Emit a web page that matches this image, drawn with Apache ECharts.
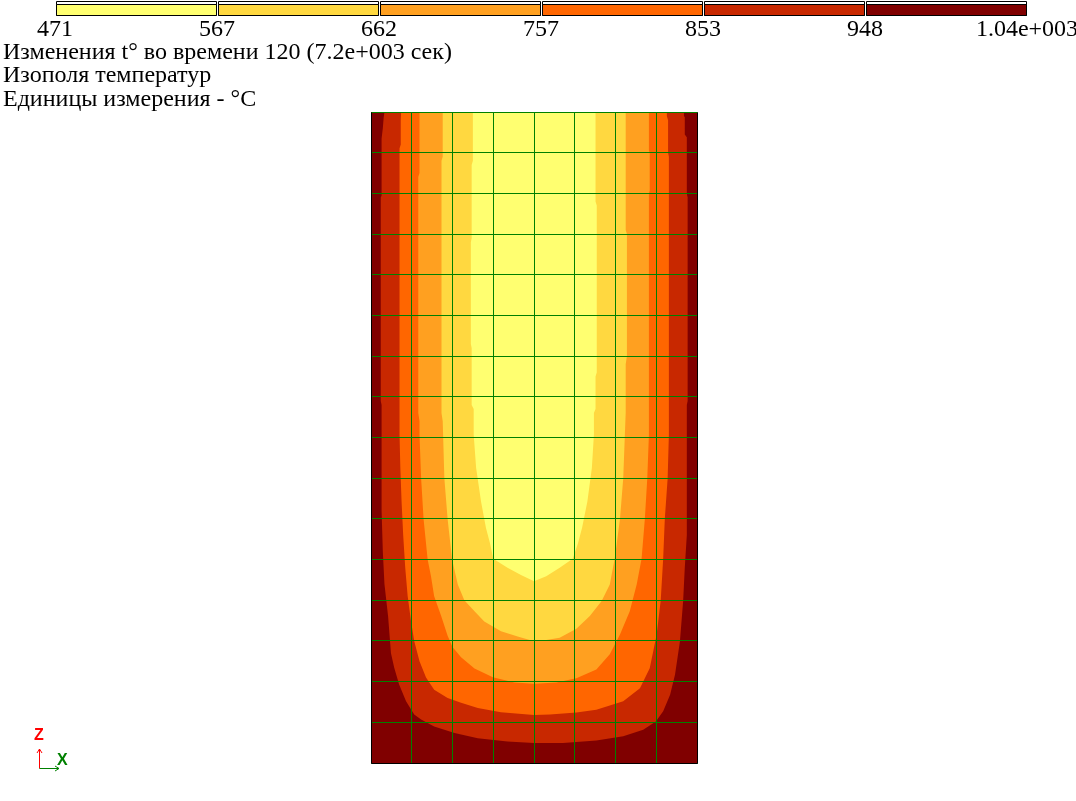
<!DOCTYPE html>
<html>
<head>
<meta charset="utf-8">
<script src="https://cdn.jsdelivr.net/npm/echarts@6/dist/echarts.min.js"></script>
<style>
  html, body { margin: 0; background: #fff; }
  #chart { width: 1076px; height: 801px; }
</style>
</head>
<body>
<div id="chart"></div>
<script>
// шкала
const LEGEND_LABELS = ['471', '567', '662', '757', '853', '948', '1.04e+003'];
const TITLE_LINES = [
  'Изменения t° во времени 120 (7.2e+003 сек)',
  'Изополя температур',
  'Единицы измерения - °C'
];

// область (x 0..8, z 0..16, сетка 8x16)
const X_MAX = 8;
const Z_MAX = 16;

// изолинии: от левого верхнего края вниз, через низ, вверх по правому краю  [x, z]
const ISO_948 = [
  [0.33, 16], [0.31, 15.85], [0.29, 15.6], [0.26, 15.35], [0.26, 13.95], [0.24, 13.9],
  [0.24, 8.9], [0.26, 8.8], [0.26, 6.2], [0.29, 5.2], [0.33, 4.4], [0.42, 3.6],
  [0.49, 2.7], [0.57, 2.34], [0.69, 1.93], [0.86, 1.52], [1.06, 1.19], [1.23, 1.07],
  [1.55, 0.90], [2.05, 0.74], [2.62, 0.61], [3.35, 0.53], [4.0, 0.49],
  [4.71, 0.49], [5.53, 0.55], [6.19, 0.66], [6.68, 0.82], [6.99, 1.02], [7.17, 1.27],
  [7.34, 1.68], [7.46, 2.17], [7.58, 2.98], [7.66, 3.98], [7.70, 4.8], [7.75, 5.6],
  [7.75, 8.8], [7.77, 8.9], [7.77, 13.9], [7.75, 14.0], [7.75, 15.38], [7.70, 15.45],
  [7.70, 15.87], [7.68, 15.9], [7.68, 16]
];
const ISO_853 = [
  [0.74, 16], [0.73, 15.8], [0.73, 15.2], [0.70, 15.1], [0.70, 8.07], [0.72, 7.25],
  [0.75, 6.43], [0.79, 5.6], [0.84, 4.8], [0.90, 4.1], [0.98, 3.5], [1.06, 3.0],
  [1.19, 2.5], [1.35, 2.1], [1.55, 1.8], [1.88, 1.6], [2.21, 1.48], [2.62, 1.35],
  [3.19, 1.25], [4.0, 1.18],
  [4.39, 1.19], [5.04, 1.24], [5.53, 1.31], [6.19, 1.52], [6.60, 1.84], [6.84, 2.33],
  [7.01, 3.15], [7.11, 4.0], [7.17, 5.02], [7.21, 6.0], [7.28, 7.0], [7.31, 8.07],
  [7.31, 14.9], [7.29, 15.0], [7.29, 15.8], [7.26, 15.9], [7.26, 16]
];
const ISO_757 = [
  [1.19, 16], [1.19, 14.5], [1.16, 14.4], [1.16, 8.6], [1.19, 8.4], [1.19, 8.07],
  [1.23, 7.0], [1.29, 6.0], [1.39, 5.0], [1.47, 4.6], [1.55, 4.1], [1.72, 3.62],
  [1.88, 3.13], [2.0, 2.85], [2.21, 2.6], [2.54, 2.32], [2.99, 2.11], [3.52, 1.98],
  [4.0, 1.95],
  [4.55, 1.98], [5.04, 2.08], [5.53, 2.30], [5.86, 2.67], [6.11, 3.16], [6.35, 3.73],
  [6.52, 4.39], [6.64, 5.02], [6.72, 6.0], [6.78, 7.0], [6.82, 8.07], [6.82, 14.0],
  [6.84, 14.07], [6.84, 15.0], [6.82, 15.05], [6.82, 16]
];
const ISO_662 = [
  [1.76, 16], [1.76, 14.9], [1.73, 14.8], [1.73, 8.6], [1.76, 8.4], [1.80, 7.0],
  [1.88, 6.0], [1.99, 5.0], [2.13, 4.39], [2.29, 4.0], [2.54, 3.73], [2.78, 3.48],
  [3.19, 3.24], [3.60, 3.11], [4.0, 2.99],
  [4.30, 3.02], [4.63, 3.08], [5.04, 3.30], [5.37, 3.61], [5.66, 3.98], [5.86, 4.39],
  [5.98, 5.02], [6.11, 6.0], [6.19, 7.0], [6.23, 8.07], [6.25, 8.6], [6.25, 9.8],
  [6.28, 10.0], [6.28, 13.0], [6.25, 13.1], [6.25, 16]
];
const ISO_567 = [
  [2.50, 16], [2.50, 14.8], [2.47, 14.7], [2.47, 12.9], [2.45, 12.8], [2.45, 10.3],
  [2.47, 10.2], [2.47, 8.8], [2.52, 8.7], [2.52, 8.07], [2.58, 7.25], [2.70, 6.43],
  [2.82, 5.78], [2.92, 5.4], [3.0, 5.02], [3.35, 4.80], [3.68, 4.62], [4.0, 4.47],
  [4.30, 4.59], [4.63, 4.80], [4.95, 5.02], [5.08, 5.4], [5.18, 5.78], [5.31, 6.43],
  [5.42, 7.25], [5.47, 8.07], [5.47, 8.6], [5.51, 8.7], [5.51, 9.5], [5.54, 9.6],
  [5.54, 13.7], [5.51, 13.8], [5.51, 16]
];
const ISOLINES = [ISO_948, ISO_853, ISO_757, ISO_662, ISO_567];

// цвета: от горячего к холодному
const BAND_COLORS = ['#800000', '#c82800', '#ff6600', '#ffa020', '#ffd840', '#ffff70'];
const SERIF = '"Liberation Serif", "DejaVu Serif", serif';

const chart = echarts.init(document.getElementById('chart'));

const crisp = (v) => Math.floor(v) + 0.5;

function renderBand(params, api) {
  const k = api.value(0);
  if (k === 0) {
    const a = api.coord([0, Z_MAX]);
    const b = api.coord([X_MAX, 0]);
    return { type: 'rect', shape: { x: a[0], y: a[1], width: b[0] - a[0], height: b[1] - a[1] },
      style: { fill: BAND_COLORS[0] } };
  }
  return { type: 'polygon', shape: { points: ISOLINES[k - 1].map((p) => api.coord(p)) },
    style: { fill: BAND_COLORS[k] } };
}

// сетка элементов (зелёная) + рамка
function renderMesh(params, api) {
  const children = [];
  const top = crisp(api.coord([0, Z_MAX])[1]);
  const bottom = crisp(api.coord([0, 0])[1]);
  const left = crisp(api.coord([0, 0])[0]);
  const right = crisp(api.coord([X_MAX, 0])[0]);
  const green = { stroke: '#008000', lineWidth: 1 };
  for (let i = 0; i <= X_MAX; i++) {
    const x = crisp(api.coord([i, 0])[0]);
    children.push({ type: 'line', shape: { x1: x, y1: top, x2: x, y2: bottom }, style: green });
  }
  for (let j = 0; j <= Z_MAX; j++) {
    const y = crisp(api.coord([0, j])[1]);
    children.push({ type: 'line', shape: { x1: left, y1: y, x2: right, y2: y }, style: green });
  }
  children.push({ type: 'polyline',
    shape: { points: [[left, top], [left, bottom], [right, bottom], [right, top]] },
    style: { stroke: '#000', lineWidth: 1, fill: null } });
  return { type: 'group', children };
}

function renderLegendBox(params, api) {
  const i = api.value(0);
  const a = api.coord([i, 1]);
  const b = api.coord([i + 1, 0]);
  const x = a[0] + 1.5, w = b[0] - a[0] - 2;
  return {
    type: 'group',
    children: [
      { type: 'rect', shape: { x, y: a[1] + 0.5, width: w, height: b[1] - a[1] - 1 },
        style: { fill: '#fff', stroke: '#000', lineWidth: 1 } },
      { type: 'rect', shape: { x, y: a[1] + 3.5, width: w, height: b[1] - a[1] - 4 },
        style: { fill: BAND_COLORS[BAND_COLORS.length - 1 - i], stroke: '#000', lineWidth: 1 } }
    ]
  };
}

const hidden = { axisLine: { show: false }, axisTick: { show: false }, axisLabel: { show: false }, splitLine: { show: false } };

chart.setOption({
  animation: false,
  grid: [
    { left: 371, top: 112, width: 326, height: 651, outerBoundsMode: 'none' },
    { left: 55, top: 1, width: 972, height: 15, outerBoundsMode: 'none' }
  ],
  xAxis: [
    { gridIndex: 0, type: 'value', min: 0, max: X_MAX, interval: 1, ...hidden },
    { gridIndex: 1, type: 'value', min: 0, max: LEGEND_LABELS.length - 1, interval: 1,
      axisLine: { show: false }, axisTick: { show: false }, splitLine: { show: false },
      axisLabel: { formatter: (v) => LEGEND_LABELS[v], fontFamily: SERIF, fontSize: 24, color: '#000',
        verticalAlign: 'middle', margin: 14, hideOverlap: false } }
  ],
  yAxis: [
    { gridIndex: 0, type: 'value', min: 0, max: Z_MAX, interval: 1, ...hidden },
    { gridIndex: 1, type: 'value', min: 0, max: 1, show: false }
  ],
  series: [
    { type: 'custom', xAxisIndex: 0, yAxisIndex: 0, z: 2, silent: true,
      data: [0, 1, 2, 3, 4, 5].map((k) => [k]), renderItem: renderBand },
    { type: 'custom', xAxisIndex: 0, yAxisIndex: 0, z: 5, silent: true,
      data: [[0]], renderItem: renderMesh },
    { type: 'custom', xAxisIndex: 1, yAxisIndex: 1, silent: true,
      data: LEGEND_LABELS.slice(0, -1).map((_, i) => [i]), renderItem: renderLegendBox }
  ],
  graphic: [
    ...TITLE_LINES.map((t, i) => ({
      type: 'text', left: 3, top: [41, 64, 88][i],
      style: { text: t, font: '24px ' + SERIF, fill: '#000' }
    })),
    // оси Z / X
    { type: 'line', shape: { x1: 39.5, y1: 768.5, x2: 39.5, y2: 749 }, style: { stroke: '#ff0000', lineWidth: 1 } },
    { type: 'polyline', shape: { points: [[37, 753], [39.5, 749], [42, 753]] }, style: { stroke: '#ff0000', lineWidth: 1, fill: null } },
    { type: 'line', shape: { x1: 39.5, y1: 768.5, x2: 59, y2: 768.5 }, style: { stroke: '#008000', lineWidth: 1 } },
    { type: 'polyline', shape: { points: [[55, 766], [59, 768.5], [55, 771]] }, style: { stroke: '#008000', lineWidth: 1, fill: null } },
    { type: 'text', left: 34, top: 728, style: { text: 'Z', font: 'bold 16px "Liberation Sans", Arial, sans-serif', fill: '#ff0000' } },
    { type: 'text', left: 57, top: 753, style: { text: 'X', font: 'bold 16px "Liberation Sans", Arial, sans-serif', fill: '#008000' } }
  ]
});
</script>
</body>
</html>
